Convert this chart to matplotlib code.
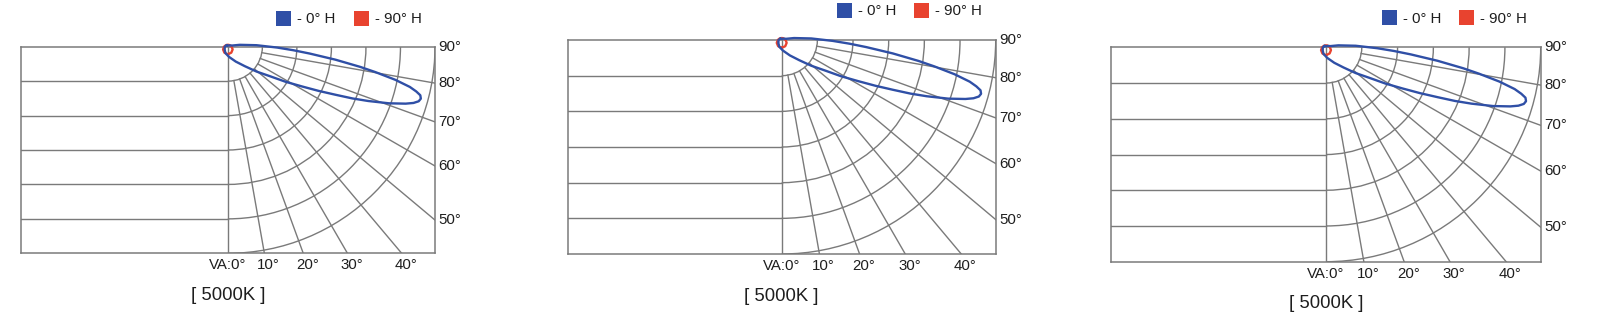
import numpy as np
import matplotlib.pyplot as plt
from matplotlib.patches import Arc, Patch

plt.rcParams['font.family'] = ['Liberation Sans', 'DejaVu Sans']

# --- grid of the diagram (grid units: one unit = one row on the left) ---
arc_radii = [1, 2, 3, 4, 5, 6]
row_lines = [1, 2, 3, 4, 5]
spoke_angles = [10, 20, 30, 40, 50, 60, 70, 80]
bottom_angles = [0, 10, 20, 30, 40]
bottom_labels = ['VA:0°', '10°', '20°', '30°', '40°']
right_angles = [50, 60, 70, 80, 90]
right_labels = ['50°', '60°', '70°', '80°', '90°']

# --- light distribution, angle from nadir (deg) and radius (grid units) ---
h0_angle = [-135, -90, -45, -20, 7, 28, 41, 49, 55, 58.6, 61.7, 64, 65.9, 67.4, 68.8,
            70.6, 72.2, 73.1, 74, 74.9, 75.8, 76.6, 77.5, 78.8, 80.2, 81.3, 83.1,
            85.2, 86.9, 89, 93, 99, 105, 130, 180]
h0_r = [0.05, 0.09, 0.13, 0.20, 0.30, 0.49, 0.75, 1.10, 1.50, 1.95, 2.43, 2.93, 3.42, 3.91, 4.36,
        4.95, 5.41, 5.62, 5.75, 5.79, 5.75, 5.61, 5.40, 4.94, 4.34, 3.88, 3.14,
        2.38, 1.90, 1.43, 0.83, 0.35, 0.13, 0.06, 0.03]
h90_angle = [0, 30, 60, 90, 120, 150, 180, 210, 240, 270, 300, 330]
h90_r = [0.22, 0.20, 0.16, 0.11, 0.075, 0.06, 0.055, 0.06, 0.075, 0.11, 0.16, 0.20]

caption = '[ 5000K ]'
legend_labels = ['- 0° H', '- 90° H']

blue = '#2f4fa6'
red = '#e8432f'
grid_col = '#7a7a7a'
text_col = '#1e1e1e'

# panel boxes in pixels: left, top, right, bottom
panels = [(20.7, 46.7, 435, 253.3), (567.7, 40, 995.7, 254), (1111.3, 47.3, 1540.7, 261.7)]

W, H = 1600, 325
fig = plt.figure(figsize=(16, 3.25), dpi=100)


def polar_xy(ang, r):
    a = np.radians(np.append(ang, ang[0]))
    rr = np.append(r, r[0])
    return rr * np.sin(a), -rr * np.cos(a)


for (l, t, r_, b) in panels:
    ax = fig.add_axes([l / W, 1 - b / H, (r_ - l) / W, (b - t) / H])
    ax.set_xlim(-6, 6)
    ax.set_ylim(-6, 0)
    ax.set_xticks([])
    ax.set_yticks([])
    for s in ax.spines.values():
        s.set_color(grid_col)
        s.set_linewidth(1.1)

    # left rows and centre line
    for y in row_lines:
        ax.plot([-6, 0], [-y, -y], color=grid_col, lw=1.0)
    ax.plot([0, 0], [0, -6], color=grid_col, lw=1.0)

    # arcs around the light source
    for rad in arc_radii:
        ax.add_patch(Arc((0, 0), 2 * rad, 2 * rad, theta1=-90, theta2=0,
                         color=grid_col, lw=1.0))

    # spokes
    for a in spoke_angles:
        th = np.radians(a)
        ax.plot([np.sin(th), 10 * np.sin(th)], [-np.cos(th), -10 * np.cos(th)],
                color=grid_col, lw=1.0)

    # intensity curves
    x, y = polar_xy(h90_angle, h90_r)
    ax.plot(x, y, color=red, lw=1.7, clip_on=False, zorder=5)
    x, y = polar_xy(h0_angle, h0_r)
    ax.plot(x, y, color=blue, lw=1.7, clip_on=False, zorder=6, solid_joinstyle='round')

    # angle labels
    for a, lab in zip(bottom_angles, bottom_labels):
        dx = 0 if a == 0 else 3
        ax.annotate(lab, (6 * np.tan(np.radians(a)), -6), xytext=(dx, -8.6),
                    textcoords='offset points', ha='center', va='center',
                    fontsize=10.8, color=text_col, annotation_clip=False)
    for a, lab in zip(right_angles, right_labels):
        ax.annotate(lab, (6, -6 / np.tan(np.radians(a))), xytext=(2.4, 0),
                    textcoords='offset points', ha='left', va='center',
                    fontsize=10.8, color=text_col, annotation_clip=False)

    ax.annotate(caption, (0, -6), xytext=(0, -30.4), textcoords='offset points',
                ha='center', va='center', fontsize=13.3, color=text_col,
                annotation_clip=False)

    handles = [Patch(facecolor=blue, edgecolor='none'), Patch(facecolor=red, edgecolor='none')]
    ax.legend(handles, legend_labels, loc='center right', bbox_to_anchor=(0.968, 1.137),
              ncol=2, frameon=False, fontsize=10.8, borderpad=0, borderaxespad=0,
              handlelength=1.0, handleheight=1.15, handletextpad=0.4,
              columnspacing=1.2, labelcolor=text_col)

fig.savefig('out.png', dpi=100, facecolor='white')
